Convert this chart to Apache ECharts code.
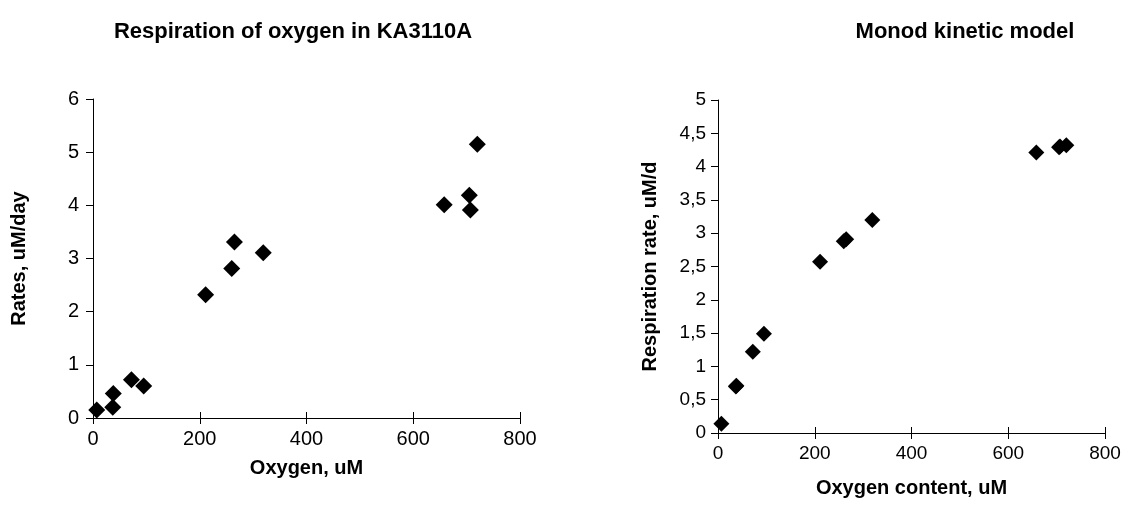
<!DOCTYPE html>
<html><head><meta charset="utf-8">
<script src="https://cdn.jsdelivr.net/npm/echarts@6/dist/echarts.min.js"></script>
<style>html,body{margin:0;padding:0;background:#fff}#c{width:1127px;height:515px}</style>
</head><body><div id="c"></div>
<script>
// Data
const oxygen = [7, 37, 38, 72, 95, 211, 260, 265, 319, 658, 705, 707, 720];
const rates = [0.15, 0.20, 0.46, 0.72, 0.60, 2.32, 2.81, 3.31, 3.11, 4.01, 4.19, 3.91, 5.15];
const monodRates = [0.14, 0.70, 0.71, 1.22, 1.49, 2.57, 2.88, 2.91, 3.20, 4.21, 4.29, 4.30, 4.32];
const xTicks = [0, 200, 400, 600, 800];
const titles = ['Respiration of oxygen in KA3110A', 'Monod kinetic model'];
const xNames = ['Oxygen, uM', 'Oxygen content, uM'];
const yNames = ['Rates, uM/day', 'Respiration rate, uM/d'];

const FONT = 'Liberation Sans, Arial, sans-serif';
const chart = echarts.init(document.getElementById('c'), null, {renderer: 'canvas'});

function xAx(grid, name, gap, inside, fs, nfs) {
  return {
    type: 'value', gridIndex: grid, min: xTicks[0], max: xTicks[xTicks.length - 1], interval: 200,
    position: 'bottom',
    name: inside ? '' : name, nameLocation: 'middle', nameGap: gap,
    nameTextStyle: {fontFamily: FONT, fontWeight: 'bold', fontSize: nfs, color: '#000'},
    axisLine: {show: true, onZero: false, lineStyle: {color: '#000', width: 1}},
    axisTick: {show: true, inside: inside, length: 6, lineStyle: {color: '#000'}},
    axisLabel: {show: !inside, fontFamily: FONT, fontSize: fs, color: '#000', margin: 11},
    splitLine: {show: false}
  };
}
function yAx(grid, name, max, interval, gap, comma, fs, nfs, margin) {
  return {
    type: 'value', gridIndex: grid, min: 0, max: max, interval: interval,
    name: name, nameLocation: 'middle', nameGap: gap,
    nameTextStyle: {fontFamily: FONT, fontWeight: 'bold', fontSize: nfs, color: '#000'},
    axisLine: {show: true, lineStyle: {color: '#000', width: 1}},
    axisTick: {show: true, length: 7, lineStyle: {color: '#000'}},
    axisLabel: {fontFamily: FONT, fontSize: fs, color: '#000', margin: margin,
      formatter: v => comma ? String(v).replace('.', ',') : String(v)},
    splitLine: {show: false}
  };
}

chart.setOption({
  animation: false,
  backgroundColor: '#fff',
  title: [
    {text: titles[0], left: 288, top: 16, textAlign: 'center',
     textStyle: {fontFamily: FONT, fontWeight: 'bold', fontSize: 22, color: '#000'}},
    {text: titles[1], left: 960, top: 16, textAlign: 'center',
     textStyle: {fontFamily: FONT, fontWeight: 'bold', fontSize: 22, color: '#000'}}
  ],
  grid: [
    {left: 93, top: 99, width: 427, height: 319},
    {left: 718, top: 100, width: 387, height: 333}
  ],
  xAxis: [xAx(0, xNames[0], 40, false, 20, 20), xAx(0, '', 0, true, 20, 20),
          xAx(1, xNames[1], 45, false, 19, 20), xAx(1, '', 0, true, 19, 20)],
  yAxis: [yAx(0, yNames[0], 6, 1, 64, false, 20, 20, 14),
          yAx(1, yNames[1], 5, 0.5, 58, true, 19, 20, 12)],
  series: [
    {type: 'scatter', xAxisIndex: 0, yAxisIndex: 0, symbol: 'diamond', symbolSize: 17,
     itemStyle: {color: '#000', opacity: 1}, data: oxygen.map((x, i) => [x, rates[i]])},
    {type: 'scatter', xAxisIndex: 2, yAxisIndex: 1, symbol: 'diamond', symbolSize: 16,
     itemStyle: {color: '#000', opacity: 1}, data: oxygen.map((x, i) => [x, monodRates[i]])}
  ]
});
</script></body></html>
